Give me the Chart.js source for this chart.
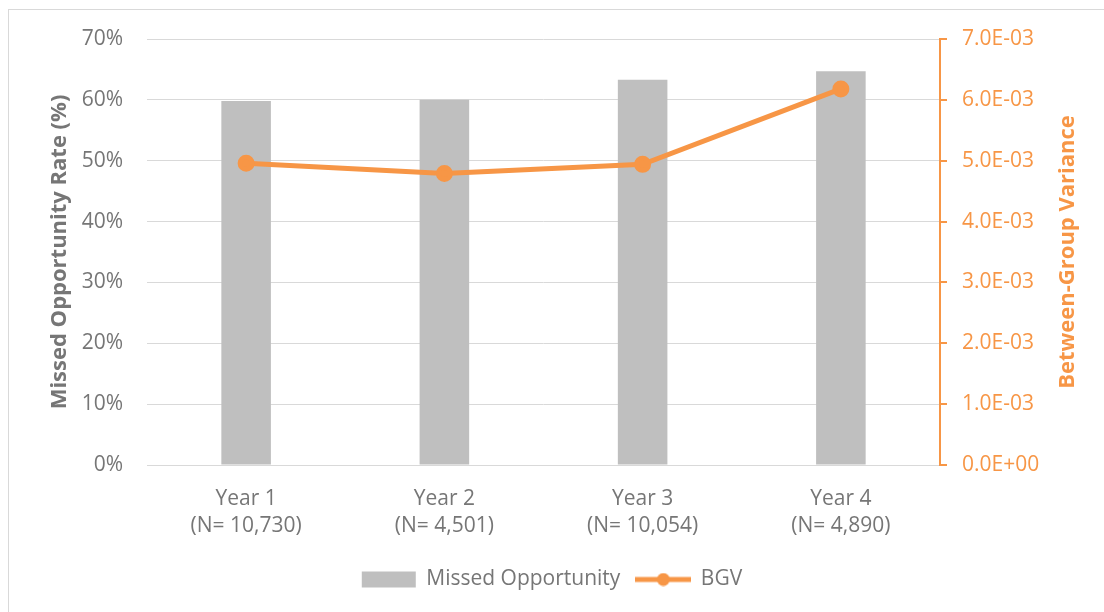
<!DOCTYPE html>
<html>
<head>
<meta charset="utf-8">
<script src="https://cdn.jsdelivr.net/npm/chart.js@4"></script>
<style>
  html, body { margin: 0; padding: 0; background: #fff; }
  #frame { position: absolute; left: 8px; top: 9px; width: 1120px; height: 640px; border: 1px solid #d9d9d9; }
  #chart { position: absolute; left: 0; top: 0; }
</style>
</head>
<body>
<div id="frame"></div>
<canvas id="chart" width="1104" height="612"></canvas>
<script>
const years = [['Year 1', '(N= 10,730)'], ['Year 2', '(N= 4,501)'], ['Year 3', '(N= 10,054)'], ['Year 4', '(N= 4,890)']];
const missedRate = [59.8, 60.0, 63.3, 64.7];
const bgv = [0.00496, 0.00479, 0.00494, 0.00618];
const leftTicks = [0, 10, 20, 30, 40, 50, 60, 70];

const gray = '#767676';
const barGray = '#bfbfbf';
const orange = '#f79646';
const font = "'Open Sans', sans-serif";

// legend marker for the line series: a short line with a dot in the middle
const bgvMarker = document.createElement('canvas');
bgvMarker.width = 56;
bgvMarker.height = 14;
(function () {
    const c = bgvMarker.getContext('2d');
    c.strokeStyle = orange;
    c.fillStyle = orange;
    c.lineWidth = 5;
    c.beginPath();
    c.moveTo(0, 7);
    c.lineTo(56, 7);
    c.stroke();
    c.beginPath();
    c.arc(28, 7, 6.5, 0, Math.PI * 2);
    c.fill();
})();

// axis titles read bottom-to-top on both sides
const axisTitles = {
    id: 'axisTitles',
    afterDraw(chart) {
        const c = chart.ctx;
        const midY = (chart.chartArea.top + chart.chartArea.bottom) / 2;
        c.save();
        c.font = "bold 22px 'Open Sans', sans-serif";
        c.textAlign = 'center';
        c.textBaseline = 'middle';
        [[60, gray, 'Missed Opportunity Rate (%)'], [1068, orange, 'Between-Group Variance']].forEach(function (t) {
            c.save();
            c.translate(t[0], midY);
            c.rotate(-Math.PI / 2);
            c.fillStyle = t[1];
            c.fillText(t[2], 0, 0);
            c.restore();
        });
        c.restore();
    }
};

const ctx = document.getElementById('chart').getContext('2d');
const myChart = new Chart(ctx, {
    data: {
        labels: years,
        datasets: [
            {
                type: 'line',
                label: 'BGV',
                data: bgv,
                yAxisID: 'y1',
                borderColor: orange,
                backgroundColor: orange,
                borderWidth: 5,
                pointRadius: 6,
                pointHoverRadius: 6,
                tension: 0,
                order: 0
            },
            {
                type: 'bar',
                label: 'Missed Opportunity',
                data: missedRate,
                yAxisID: 'y',
                backgroundColor: barGray,
                barPercentage: 0.25,
                categoryPercentage: 1,
                order: 1
            }
        ]
    },
    plugins: [axisTitles],
    options: {
        responsive: false,
        animation: false,
        layout: { padding: { top: 39, left: 0, right: 0, bottom: 12 } },
        plugins: {
            tooltip: { enabled: false },
            legend: {
                position: 'bottom',
                labels: {
                    color: gray,
                    font: { family: font, size: 21 },
                    usePointStyle: true,
                    pointStyleWidth: 54,
                    boxHeight: 16,
                    padding: 16,
                    generateLabels: function (chart) {
                        return [
                            { text: 'Missed Opportunity', pointStyle: 'rect', fillStyle: barGray, strokeStyle: barGray, lineWidth: 0, fontColor: gray, datasetIndex: 1 },
                            { text: 'BGV', pointStyle: bgvMarker, fillStyle: orange, strokeStyle: orange, lineWidth: 0, fontColor: gray, datasetIndex: 0 }
                        ];
                    }
                }
            }
        },
        scales: {
            x: {
                grid: { display: false },
                border: { color: '#d9d9d9', width: 1 },
                ticks: { color: gray, font: { family: font, size: 21, lineHeight: 1.3 }, padding: 12, maxRotation: 0 },
                afterFit: function (axis) { axis.height = 88; }
            },
            y: {
                position: 'left',
                min: 0,
                max: 70,
                afterBuildTicks: function (axis) { axis.ticks = leftTicks.map(v => ({ value: v })); },
                ticks: { color: gray, font: { family: font, size: 21 }, padding: 24, callback: v => v + '%' },
                grid: { color: '#d9d9d9', lineWidth: 1, drawTicks: false },
                border: { display: false },
                afterFit: function (axis) { axis.width = 147; }
            },
            y1: {
                position: 'right',
                min: 0,
                max: 0.007,
                ticks: {
                    stepSize: 0.001,
                    color: orange,
                    font: { family: font, size: 21 },
                    padding: 15,
                    callback: function (v) {
                        const m = Math.round(v * 10000) / 10;
                        return v === 0 ? '0.0E+00' : m.toFixed(1) + 'E-03';
                    }
                },
                grid: { drawOnChartArea: false, color: orange, tickLength: 7, lineWidth: 2 },
                border: { color: orange, width: 2 },
                afterFit: function (axis) { axis.width = 164; }
            }
        }
    }
});
</script>
</body>
</html>
